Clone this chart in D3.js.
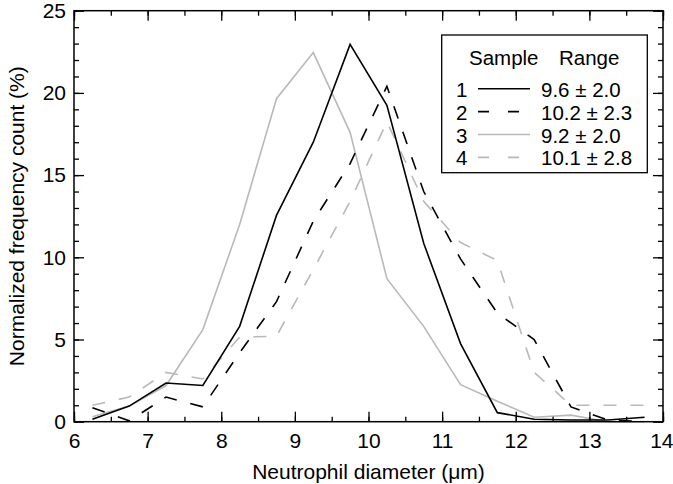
<!DOCTYPE html>
<html>
<head>
<meta charset="utf-8">
<script src="https://cdn.jsdelivr.net/npm/d3@7"></script>
<style>
  body { margin: 0; background: #fff; }
  svg { font-family: "Liberation Sans", Arial, Helvetica, sans-serif; }
</style>
</head>
<body>
<div id="chart"></div>
<script>
// bin centres (um)
const diameters = [6.25, 6.75, 7.25, 7.75, 8.25, 8.75, 9.25, 9.75, 10.25, 10.75, 11.25, 11.75, 12.25, 12.75, 13.25, 13.75];

// normalized frequency count (%) per sample
const sample1 = [0.15, 0.95, 2.35, 2.2, 5.8, 12.55, 17.0, 22.95, 19.25, 10.85, 4.75, 0.55, 0.15, 0.1, 0.1, 0.27];
const sample2 = [0.85, 0.05, 1.5, 0.9, 4.2, 7.3, 12.2, 15.7, 20.4, 14.0, 9.9, 6.6, 5.0, 0.9, 0.1, 0.0];
const sample3 = [0.3, 0.95, 2.2, 5.6, 12.0, 19.65, 22.45, 17.6, 8.7, 5.8, 2.25, 1.25, 0.27, 0.4, 0.0, 0.0];
const sample4 = [1.0, 1.5, 3.0, 2.6, 5.15, 5.2, 9.25, 13.4, 18.25, 13.4, 10.9, 9.8, 3.0, 1.0, 1.0, 1.0];

const sampleIds = ['1', '2', '3', '4'];
const sampleRanges = ['9.6 \u00b1 2.0', '10.2 \u00b1 2.3', '9.2 \u00b1 2.0', '10.1 \u00b1 2.8'];

const xTicks = [6, 7, 8, 9, 10, 11, 12, 13, 14];
const yTicks = [0, 5, 10, 15, 20, 25];

const width = 673;
const height = 484;
const margin = { top: 10.7, right: 10, bottom: 62.3, left: 74 };
const fontSize = 21;

const series = [
  { id: sampleIds[0], range: sampleRanges[0], values: sample1, colour: '#000', dash: null },
  { id: sampleIds[1], range: sampleRanges[1], values: sample2, colour: '#000', dash: '13,14' },
  { id: sampleIds[2], range: sampleRanges[2], values: sample3, colour: '#b9b9b9', dash: null },
  { id: sampleIds[3], range: sampleRanges[3], values: sample4, colour: '#b9b9b9', dash: '13,14' },
];

const svg = d3.select('#chart').append('svg')
  .attr('width', width)
  .attr('height', height);

const x = d3.scaleLinear().domain([6, 14]).range([margin.left, width - margin.right]);
const y = d3.scaleLinear().domain([0, 25]).range([height - margin.bottom, margin.top]);

// lines, grey ones underneath
const line = d3.line()
  .x((d, i) => x(diameters[i]))
  .y((d) => y(d));

svg.append('g')
  .selectAll('path')
  .data([series[2], series[3], series[0], series[1]])
  .join('path')
  .attr('d', (d) => line(d.values))
  .attr('fill', 'none')
  .attr('stroke', (d) => d.colour)
  .attr('stroke-width', 1.6)
  .attr('stroke-dasharray', (d) => d.dash);

// axes with inward ticks on all four sides
const minorX = d3.range(6, 14.01, 0.5);
const minorY = d3.range(0, 25.01, 1);

function styleAxis(g) {
  g.select('.domain').remove();
  g.selectAll('line').attr('stroke', '#000').attr('stroke-width', 1.3);
  g.selectAll('text').attr('font-size', fontSize).attr('fill', '#000');
}

svg.append('g')
  .attr('transform', `translate(0,${y(0)})`)
  .call(d3.axisBottom(x).tickValues(minorX).tickSize(-5).tickFormat(''))
  .call(styleAxis);
const xAxis = svg.append('g')
  .attr('transform', `translate(0,${y(0)})`)
  .call(d3.axisBottom(x).tickValues(xTicks).tickSize(-10).tickPadding(11).tickFormat(d3.format('d')))
  .call(styleAxis);
// last label sits at the window edge, keep it inside
xAxis.selectAll('text').filter((d) => d === 14).attr('text-anchor', 'end').attr('x', 10);

svg.append('g')
  .attr('transform', `translate(0,${y(25)})`)
  .call(d3.axisTop(x).tickValues(minorX).tickSize(-5).tickFormat(''))
  .call(styleAxis);
svg.append('g')
  .attr('transform', `translate(0,${y(25)})`)
  .call(d3.axisTop(x).tickValues(xTicks).tickSize(-10).tickFormat(''))
  .call(styleAxis);

svg.append('g')
  .attr('transform', `translate(${x(6)},0)`)
  .call(d3.axisLeft(y).tickValues(minorY).tickSize(-5).tickFormat(''))
  .call(styleAxis);
svg.append('g')
  .attr('transform', `translate(${x(6)},0)`)
  .call(d3.axisLeft(y).tickValues(yTicks).tickSize(-10).tickPadding(8).tickFormat(d3.format('d')))
  .call(styleAxis);
svg.append('g')
  .attr('transform', `translate(${x(14)},0)`)
  .call(d3.axisRight(y).tickValues(minorY).tickSize(-5).tickFormat(''))
  .call(styleAxis);
svg.append('g')
  .attr('transform', `translate(${x(14)},0)`)
  .call(d3.axisRight(y).tickValues(yTicks).tickSize(-10).tickFormat(''))
  .call(styleAxis);

// frame
svg.append('rect')
  .attr('x', x(6))
  .attr('y', y(25))
  .attr('width', x(14) - x(6))
  .attr('height', y(0) - y(25))
  .attr('fill', 'none')
  .attr('stroke', '#000')
  .attr('stroke-width', 1.5);

// axis titles
svg.append('text')
  .attr('x', (x(6) + x(14)) / 2)
  .attr('y', 479)
  .attr('text-anchor', 'middle')
  .attr('font-size', fontSize)
  .text('Neutrophil diameter (\u03bcm)');

svg.append('text')
  .attr('transform', `translate(24,${(y(0) + y(25)) / 2}) rotate(-90)`)
  .attr('text-anchor', 'middle')
  .attr('font-size', fontSize)
  .text('Normalized frequency count (%)');

// legend
const legend = svg.append('g');
legend.append('rect')
  .attr('x', 441.7)
  .attr('y', 35)
  .attr('width', 205.6)
  .attr('height', 137.7)
  .attr('fill', '#fff')
  .attr('stroke', '#000')
  .attr('stroke-width', 1.3);

legend.append('text')
  .attr('x', 469)
  .attr('y', 65)
  .attr('font-size', 20.5)
  .text('Sample');
legend.append('text')
  .attr('x', 559)
  .attr('y', 65)
  .attr('font-size', 20.5)
  .text('Range');

const rows = legend.selectAll('g.row')
  .data(series)
  .join('g')
  .attr('class', 'row')
  .attr('transform', (d, i) => `translate(0,${96.7 + i * 22.9})`);

rows.append('text')
  .attr('x', 456)
  .attr('font-size', 20.5)
  .text((d) => d.id);
rows.append('line')
  .attr('x1', 478)
  .attr('x2', 530)
  .attr('y1', -8)
  .attr('y2', -8)
  .attr('stroke', (d) => d.colour)
  .attr('stroke-width', 1.6)
  .attr('stroke-dasharray', (d) => (d.dash ? '11,19' : null));
rows.append('text')
  .attr('x', 541)
  .attr('font-size', 20.5)
  .text((d) => d.range);
</script>
</body>
</html>
